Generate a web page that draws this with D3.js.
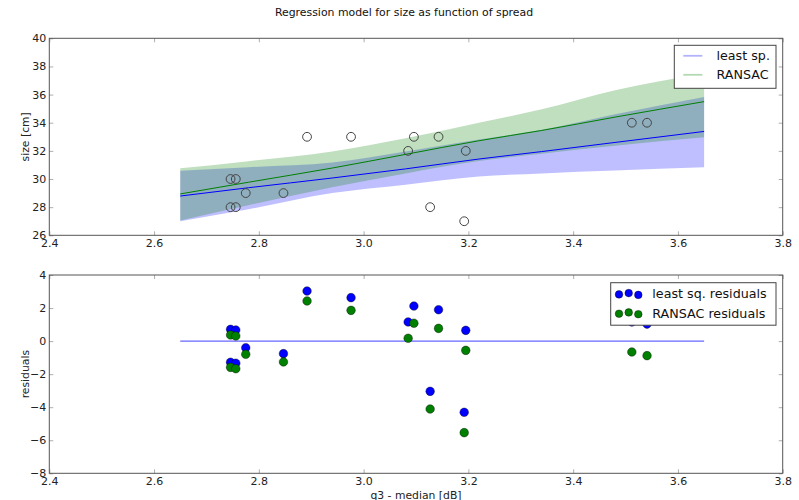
<!DOCTYPE html>
<html>
<head>
<meta charset="utf-8">
<script src="https://cdn.jsdelivr.net/npm/d3@7"></script>
<style>
  body { margin: 0; background: #fff; }
  svg { font-family: "DejaVu Sans", sans-serif; }
  .tick text { fill: #222; }
</style>
</head>
<body>
<div id="chart"></div>
<script>
// ---- data ----
const sampleSpread   = [2.746, 2.756, 2.746, 2.756, 2.775, 2.847, 2.892, 2.976, 3.085, 3.096, 3.143, 3.127, 3.192, 3.195, 3.512, 3.541];
const sampleSize     = [30, 30, 28, 28, 29, 29, 33, 33, 32, 33, 33, 28, 27, 32, 34, 34];
const lsqResidual    = [0.71, 0.67, -1.28, -1.34, -0.40, -0.76, 3.03, 2.63, 1.16, 2.12, 1.90, -3.04, -4.31, 0.65, 1.16, 1.03];
const ransacResidual = [0.37, 0.31, -1.59, -1.67, -0.80, -1.26, 2.43, 1.86, 0.17, 1.08, 0.77, -4.11, -5.54, -0.56, -0.66, -0.88];

// model curves and their bands
const fitX         = [2.65, 2.78, 2.94, 3.08, 3.22, 3.34, 3.48, 3.65];
const lsqFit       = [28.79, 29.38, 30.07, 30.72, 31.42, 31.95, 32.60, 33.38];
const lsqUpper     = [30.59, 30.84, 31.17, 31.95, 32.80, 33.50, 34.60, 35.83];
const lsqLower     = [27.00, 27.85, 29.00, 29.60, 30.17, 30.40, 30.60, 30.83];
const ransacFit    = [28.94, 29.77, 30.78, 31.75, 32.72, 33.45, 34.40, 35.50];
const ransacUpper  = [30.76, 31.27, 31.96, 32.90, 34.00, 34.95, 36.30, 37.50];
const ransacLower  = [27.05, 28.14, 29.42, 30.40, 31.28, 31.80, 32.36, 32.96];
const zeroLineX    = [2.65, 3.65];

// ticks and labels
const xTicks        = [2.4, 2.6, 2.8, 3.0, 3.2, 3.4, 3.6, 3.8];
const sizeTicks     = [26, 28, 30, 32, 34, 36, 38, 40];
const residualTicks = [-8, -6, -4, -2, 0, 2, 4];
const topLegend     = ["least sp.", "RANSAC"];
const bottomLegend  = ["least sq. residuals", "RANSAC residuals"];

// ---- layout ----
const W = 799, H = 500;
const left = 49.3, right = 782.7;
const topPanel = { y0: 38.3, y1: 235.3 };
const botPanel = { y0: 275, y1: 473.3 };

const BLUE = "#0000ff", GREEN = "#008000";

const svg = d3.select("#chart").append("svg")
    .attr("width", W).attr("height", H);

const x = d3.scaleLinear().domain([2.4, 3.8]).range([left, right]);
const ySize = d3.scaleLinear().domain([26, 40]).range([topPanel.y1, topPanel.y0]);
const yRes  = d3.scaleLinear().domain([-8, 4]).range([botPanel.y1, botPanel.y0]);

// title
svg.append("text")
    .attr("x", 404).attr("y", 16)
    .attr("text-anchor", "middle")
    .attr("font-size", "10.9px").attr("fill", "#111")
    .text("Regression model for size as function of spread");

/**
 * Draw frame, inward ticks on all sides and tick labels for one panel
 */
function drawAxes(yScale, yTicks, panel) {
    const g = svg.append("g");
    const fmtX = d3.format(".1f");

    // bottom axis with labels
    g.append("g")
        .attr("transform", `translate(0,${panel.y1})`)
        .call(d3.axisBottom(x).tickValues(xTicks).tickFormat(fmtX)
            .tickSizeInner(-4).tickSizeOuter(0).tickPadding(4));
    // top axis, ticks only
    g.append("g")
        .attr("transform", `translate(0,${panel.y0})`)
        .call(d3.axisTop(x).tickValues(xTicks).tickFormat("")
            .tickSizeInner(-4).tickSizeOuter(0));
    // left axis with labels
    g.append("g")
        .attr("transform", `translate(${left},0)`)
        .call(d3.axisLeft(yScale).tickValues(yTicks)
            .tickSizeInner(-4).tickSizeOuter(0).tickPadding(3));
    // right axis, ticks only
    g.append("g")
        .attr("transform", `translate(${right},0)`)
        .call(d3.axisRight(yScale).tickValues(yTicks).tickFormat("")
            .tickSizeInner(-4).tickSizeOuter(0));

    g.selectAll(".domain").remove();
    g.selectAll(".tick line").attr("stroke", "#999").attr("stroke-width", 0.8);
    g.selectAll(".tick text").attr("font-size", "11px").attr("font-family", "DejaVu Sans");

    // frame
    svg.append("rect")
        .attr("x", left).attr("y", panel.y0)
        .attr("width", right - left).attr("height", panel.y1 - panel.y0)
        .attr("fill", "none").attr("stroke", "#555").attr("stroke-width", 1);
}

// ============ top panel ============
const bandRows = fitX.map((v, i) => ({
    x: v,
    lsq: lsqFit[i], lsqHi: lsqUpper[i], lsqLo: lsqLower[i],
    ran: ransacFit[i], ranHi: ransacUpper[i], ranLo: ransacLower[i]
}));

const topG = svg.append("g");

topG.append("path")
    .datum(bandRows)
    .attr("fill", BLUE).attr("fill-opacity", 0.25)
    .attr("d", d3.area().curve(d3.curveMonotoneX)
        .x(d => x(d.x)).y0(d => ySize(d.lsqLo)).y1(d => ySize(d.lsqHi)));

topG.append("path")
    .datum(bandRows)
    .attr("fill", GREEN).attr("fill-opacity", 0.25)
    .attr("d", d3.area().curve(d3.curveMonotoneX)
        .x(d => x(d.x)).y0(d => ySize(d.ranLo)).y1(d => ySize(d.ranHi)));

topG.append("path")
    .datum(bandRows)
    .attr("fill", "none").attr("stroke", BLUE).attr("stroke-width", 1)
    .attr("d", d3.line().curve(d3.curveMonotoneX).x(d => x(d.x)).y(d => ySize(d.lsq)));

topG.append("path")
    .datum(bandRows)
    .attr("fill", "none").attr("stroke", GREEN).attr("stroke-width", 1)
    .attr("d", d3.line().curve(d3.curveMonotoneX).x(d => x(d.x)).y(d => ySize(d.ran)));

// samples as open circles
topG.selectAll("circle")
    .data(sampleSpread)
    .join("circle")
        .attr("cx", d => x(d))
        .attr("cy", (d, i) => ySize(sampleSize[i]))
        .attr("r", 4.4)
        .attr("fill", "none").attr("stroke", "#444").attr("stroke-width", 1);

drawAxes(ySize, sizeTicks, topPanel);

svg.append("text")
    .attr("transform", `translate(25,${(topPanel.y0 + topPanel.y1) / 2}) rotate(-90)`)
    .attr("text-anchor", "middle").attr("dy", "0.35em")
    .attr("font-size", "10.8px").attr("fill", "#222")
    .text("size [cm]");

// legend (top)
const legTop = svg.append("g");
legTop.append("rect")
    .attr("x", 674.3).attr("y", 45.3).attr("width", 101.7).attr("height", 43)
    .attr("fill", "#fff").attr("stroke", "#444").attr("stroke-width", 1);
legTop.selectAll("line")
    .data(topLegend)
    .join("line")
        .attr("x1", 683.3).attr("x2", 702.3)
        .attr("y1", (_, i) => 55.8 + i * 19).attr("y2", (_, i) => 55.8 + i * 19)
        .attr("stroke", (_, i) => i ? GREEN : BLUE)
        .attr("stroke-opacity", 0.3).attr("stroke-width", 1.8);
legTop.selectAll("text")
    .data(topLegend)
    .join("text")
        .attr("x", 716.5).attr("y", (_, i) => 55.8 + i * 19).attr("dy", "0.35em")
        .attr("font-size", "12.7px").attr("fill", "#111")
        .text(d => d);

// ============ bottom panel ============
const botG = svg.append("g");

botG.append("path")
    .datum(zeroLineX)
    .attr("fill", "none").attr("stroke", BLUE).attr("stroke-opacity", 0.75).attr("stroke-width", 1)
    .attr("d", d3.line().x(d => x(d)).y(() => yRes(0)));

botG.selectAll("circle.lsq")
    .data(sampleSpread)
    .join("circle")
        .attr("class", "lsq")
        .attr("cx", d => x(d))
        .attr("cy", (d, i) => yRes(lsqResidual[i]))
        .attr("r", 4.3)
        .attr("fill", BLUE).attr("stroke", "#000").attr("stroke-width", 0.4);

botG.selectAll("circle.ransac")
    .data(sampleSpread)
    .join("circle")
        .attr("class", "ransac")
        .attr("cx", d => x(d))
        .attr("cy", (d, i) => yRes(ransacResidual[i]))
        .attr("r", 4.3)
        .attr("fill", GREEN).attr("stroke", "#000").attr("stroke-width", 0.4);

drawAxes(yRes, residualTicks, botPanel);

svg.append("text")
    .attr("transform", `translate(25,${(botPanel.y0 + botPanel.y1) / 2}) rotate(-90)`)
    .attr("text-anchor", "middle").attr("dy", "0.35em")
    .attr("font-size", "10.8px").attr("fill", "#222")
    .text("residuals");

svg.append("text")
    .attr("x", (left + right) / 2).attr("y", 498.5)
    .attr("text-anchor", "middle")
    .attr("font-size", "10.8px").attr("fill", "#222")
    .text("q3 - median [dB]");

// legend (bottom)
const legBot = svg.append("g");
legBot.append("rect")
    .attr("x", 610.7).attr("y", 282.7).attr("width", 165.3).attr("height", 42.5)
    .attr("fill", "#fff").attr("stroke", "#444").attr("stroke-width", 1);

const markerDx = [619, 628.7, 638.3];
const markerDy = [0.6, -0.7, 1.1];
bottomLegend.forEach((label, i) => {
    const cy = 293.8 + i * 19.3;
    legBot.selectAll(`circle.m${i}`)
        .data(markerDx)
        .join("circle")
            .attr("class", `m${i}`)
            .attr("cx", d => d)
            .attr("cy", (_, j) => cy + markerDy[j])
            .attr("r", 3.8)
            .attr("fill", i ? GREEN : BLUE).attr("stroke", "#000").attr("stroke-width", 0.4);
    legBot.append("text")
        .attr("x", 652.3).attr("y", cy).attr("dy", "0.35em")
        .attr("font-size", "12.7px").attr("fill", "#111")
        .text(label);
});
</script>
</body>
</html>
